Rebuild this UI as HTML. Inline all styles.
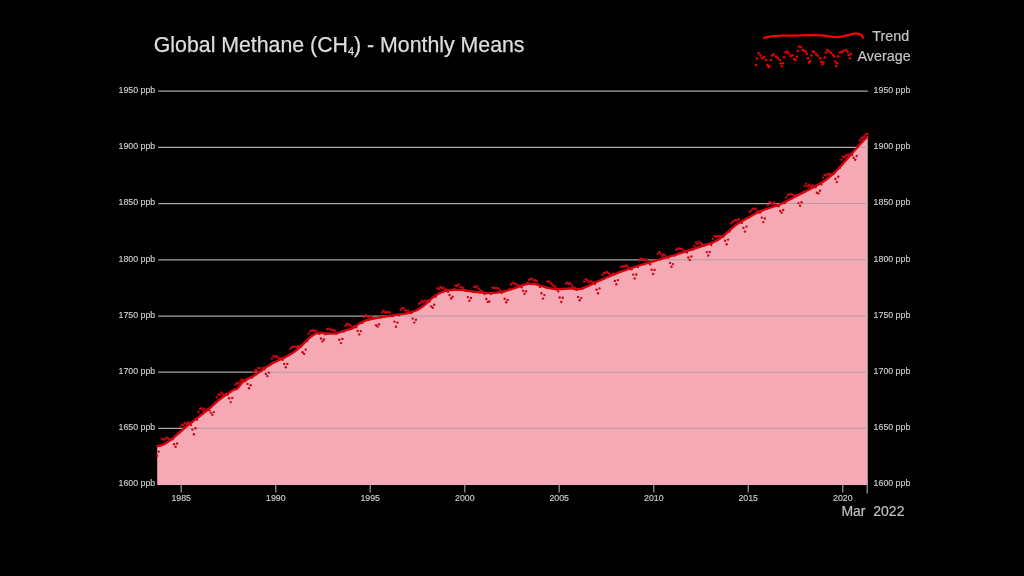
<!DOCTYPE html>
<html lang="en"><head><meta charset="utf-8"><title>Global Methane (CH4) - Monthly Means</title>
<style>
html,body{margin:0;padding:0;background:#000;}
body{width:1024px;height:576px;overflow:hidden;}
svg{display:block;font-family:"Liberation Sans",Arial,Helvetica,sans-serif;}
.t{font-size:21.3px;fill:#dedede;stroke:#dedede;stroke-width:.25;}
.s{font-size:8.8px;fill:#cdcdcd;stroke:#cdcdcd;stroke-width:.15;}
.l{font-size:14.3px;fill:#c4c4c4;stroke:#c4c4c4;stroke-width:.2;}
.d{font-size:14px;fill:#c0c0c0;stroke:#c0c0c0;stroke-width:.2;}
</style></head><body>
<svg width="1024" height="576" viewBox="0 0 1024 576">
<defs><clipPath id="fc"><path d="M157.2 484.9 L157.2 446.3 L158.7 445.9 L160.3 445.6 L161.8 445.1 L163.3 444.5 L164.9 443.7 L166.4 442.9 L167.9 441.9 L169.4 440.9 L171 439.7 L172.5 438.5 L174 437.3 L175.6 436 L177.1 434.7 L178.6 433.3 L180.2 432 L181.7 430.6 L183.2 429.3 L184.8 428 L186.3 426.7 L187.8 425.5 L189.3 424.2 L190.9 423 L192.4 421.8 L193.9 420.6 L195.5 419.4 L197 418.2 L198.5 417.1 L200.1 415.9 L201.6 414.7 L203.1 413.5 L204.6 412.3 L206.2 411.1 L207.7 409.8 L209.2 408.5 L210.8 407.3 L212.3 405.9 L213.8 404.6 L215.4 403.2 L216.9 401.9 L218.4 400.5 L220 399.2 L221.5 398 L223 396.8 L224.5 395.7 L226.1 394.8 L227.6 393.9 L229.1 392.9 L230.7 391.8 L232.2 390.5 L233.7 389.7 L235.3 389.4 L236.8 388.9 L238.3 387.6 L239.9 385.6 L241.4 383.4 L242.9 381.7 L244.4 380.5 L246 379.6 L247.5 378.9 L249 378.2 L250.6 377.6 L252.1 376.8 L253.6 375.9 L255.2 375 L256.7 374 L258.2 372.9 L259.8 371.8 L261.3 370.7 L262.8 369.6 L264.3 368.5 L265.9 367.4 L267.4 366.3 L268.9 365.4 L270.5 364.4 L272 363.6 L273.5 362.8 L275.1 362 L276.6 361.3 L278.1 360.5 L279.6 359.8 L281.2 359.1 L282.7 358.4 L284.2 357.7 L285.8 356.9 L287.3 356.1 L288.8 355.2 L290.4 354.3 L291.9 353.4 L293.4 352.4 L295 351.3 L296.5 350.1 L298 348.9 L299.5 347.5 L301.1 346.1 L302.6 344.6 L304.1 343.1 L305.7 341.6 L307.2 340 L308.7 338.6 L310.3 337.3 L311.8 336 L313.3 335 L314.9 334.1 L316.4 333.4 L317.9 333 L319.4 332.9 L321 332.9 L322.5 333 L324 333.2 L325.6 333.4 L327.1 333.6 L328.6 333.7 L330.2 333.7 L331.7 333.7 L333.2 333.6 L334.8 333.4 L336.3 333.2 L337.8 332.9 L339.3 332.5 L340.9 332 L342.4 331.4 L343.9 330.8 L345.5 330.3 L347 329.8 L348.5 329.5 L350.1 329.2 L351.6 328.8 L353.1 328.1 L354.6 327 L356.2 325.8 L357.7 324.7 L359.2 323.6 L360.8 322.8 L362.3 322 L363.8 321.3 L365.4 320.7 L366.9 320.2 L368.4 319.8 L370 319.4 L371.5 319.1 L373 318.7 L374.5 318.4 L376.1 318.1 L377.6 317.8 L379.1 317.6 L380.7 317.3 L382.2 317 L383.7 316.8 L385.3 316.5 L386.8 316.3 L388.3 316 L389.9 315.8 L391.4 315.6 L392.9 315.4 L394.4 315.1 L396 314.9 L397.5 314.7 L399 314.5 L400.6 314.3 L402.1 314.1 L403.6 313.8 L405.2 313.6 L406.7 313.3 L408.2 313 L409.7 312.6 L411.3 312.2 L412.8 311.7 L414.3 311.2 L415.9 310.6 L417.4 309.8 L418.9 309 L420.5 308.1 L422 307 L423.5 305.8 L425.1 304.6 L426.6 303.2 L428.1 301.8 L429.6 300.4 L431.2 299 L432.7 297.7 L434.2 296.5 L435.8 295.4 L437.3 294.4 L438.8 293.5 L440.4 292.8 L441.9 292.2 L443.4 291.6 L445 291.1 L446.5 290.7 L448 290.4 L449.5 290.2 L451.1 290 L452.6 289.8 L454.1 289.8 L455.7 289.7 L457.2 289.8 L458.7 289.8 L460.3 289.9 L461.8 290.1 L463.3 290.2 L464.9 290.4 L466.4 290.6 L467.9 290.8 L469.4 291.1 L471 291.3 L472.5 291.5 L474 291.8 L475.6 292 L477.1 292.2 L478.6 292.4 L480.2 292.6 L481.7 292.7 L483.2 292.9 L484.7 293 L486.3 293.1 L487.8 293.1 L489.3 293.1 L490.9 293.1 L492.4 293 L493.9 292.9 L495.5 292.8 L497 292.6 L498.5 292.4 L500.1 292.2 L501.6 291.9 L503.1 291.6 L504.6 291.3 L506.2 290.9 L507.7 290.5 L509.2 290 L510.8 289.5 L512.3 289 L513.8 288.5 L515.4 287.9 L516.9 287.3 L518.4 286.8 L520 286.2 L521.5 285.7 L523 285.2 L524.5 284.7 L526.1 284.4 L527.6 284.1 L529.1 283.9 L530.7 283.8 L532.2 283.8 L533.7 283.9 L535.3 284.2 L536.8 284.6 L538.3 285 L539.9 285.5 L541.4 286 L542.9 286.5 L544.4 287 L546 287.4 L547.5 287.8 L549 288.2 L550.6 288.4 L552.1 288.7 L553.6 288.9 L555.2 289 L556.7 289.1 L558.2 289.2 L559.7 289.2 L561.3 289.1 L562.8 289 L564.3 288.9 L565.9 288.8 L567.4 288.6 L568.9 288.5 L570.5 288.5 L572 288.6 L573.5 288.8 L575.1 289 L576.6 289.2 L578.1 289.2 L579.6 289 L581.2 288.7 L582.7 288.2 L584.2 287.7 L585.8 287 L587.3 286.4 L588.8 285.7 L590.4 284.9 L591.9 284.2 L593.4 283.5 L595 282.8 L596.5 282.1 L598 281.3 L599.5 280.6 L601.1 280 L602.6 279.3 L604.1 278.6 L605.7 277.9 L607.2 277.3 L608.7 276.6 L610.3 276 L611.8 275.3 L613.3 274.7 L614.9 274.1 L616.4 273.5 L617.9 272.9 L619.4 272.3 L621 271.7 L622.5 271.2 L624 270.6 L625.6 270.1 L627.1 269.5 L628.6 269 L630.2 268.5 L631.7 268 L633.2 267.5 L634.7 267 L636.3 266.5 L637.8 266 L639.3 265.5 L640.9 265 L642.4 264.6 L643.9 264.1 L645.5 263.6 L647 263.2 L648.5 262.7 L650.1 262.3 L651.6 261.8 L653.1 261.4 L654.6 260.9 L656.2 260.5 L657.7 260 L659.2 259.6 L660.8 259.1 L662.3 258.7 L663.8 258.2 L665.4 257.8 L666.9 257.3 L668.4 256.9 L670 256.4 L671.5 256 L673 255.5 L674.5 255.1 L676.1 254.6 L677.6 254.1 L679.1 253.6 L680.7 253.2 L682.2 252.7 L683.7 252.2 L685.3 251.7 L686.8 251.2 L688.3 250.7 L689.8 250.2 L691.4 249.7 L692.9 249.2 L694.4 248.7 L696 248.2 L697.5 247.7 L699 247.2 L700.6 246.7 L702.1 246.2 L703.6 245.7 L705.2 245.2 L706.7 244.7 L708.2 244.2 L709.7 243.7 L711.3 243.1 L712.8 242.5 L714.3 241.8 L715.9 241 L717.4 240.2 L718.9 239.3 L720.5 238.2 L722 237 L723.5 235.8 L725.1 234.5 L726.6 233.1 L728.1 231.7 L729.6 230.3 L731.2 229 L732.7 227.6 L734.2 226.4 L735.8 225.2 L737.3 224.1 L738.8 223.1 L740.4 222.1 L741.9 221.2 L743.4 220.3 L745 219.5 L746.5 218.6 L748 217.8 L749.5 217 L751.1 216.1 L752.6 215.2 L754.1 214.3 L755.7 213.5 L757.2 212.7 L758.7 211.9 L760.3 211.2 L761.8 210.6 L763.3 210 L764.8 209.5 L766.4 209 L767.9 208.5 L769.4 208 L771 207.5 L772.5 207 L774 206.5 L775.6 206 L777.1 205.5 L778.6 204.9 L780.2 204.3 L781.7 203.6 L783.2 202.9 L784.7 202.2 L786.3 201.4 L787.8 200.6 L789.3 199.8 L790.9 199 L792.4 198.2 L793.9 197.3 L795.5 196.5 L797 195.7 L798.5 194.9 L800.1 194.1 L801.6 193.4 L803.1 192.6 L804.6 191.9 L806.2 191.1 L807.7 190.3 L809.2 189.6 L810.8 188.8 L812.3 188 L813.8 187.2 L815.4 186.4 L816.9 185.5 L818.4 184.7 L820 183.8 L821.5 182.8 L823 181.8 L824.5 180.8 L826.1 179.7 L827.6 178.5 L829.1 177.3 L830.7 176 L832.2 174.7 L833.7 173.3 L835.3 171.8 L836.8 170.3 L838.3 168.7 L839.8 167.1 L841.4 165.5 L842.9 163.8 L844.4 162.1 L846 160.3 L847.5 158.6 L849 156.8 L850.6 155.1 L852.1 153.3 L853.6 151.5 L855.2 149.8 L856.7 148.1 L858.2 146.3 L859.7 144.7 L861.3 143 L862.8 141.4 L864.3 139.8 L865.9 138.3 L867.4 136.8 L867.4 484.9 Z"/></clipPath></defs>
<rect width="1024" height="576" fill="#000"/>
<text class="t" x="153.8" y="51.9">Global Methane (CH<tspan font-size="11" dy="3">4</tspan><tspan dy="-3">) - Monthly Means</tspan></text>
<g fill="none" stroke="#ff0000" stroke-width="2.25" stroke-linecap="round" stroke-linejoin="round"><path d="M764.2 38 L766.2 37.4 L768.3 36.9 L770.5 36.5 L772.8 36.2 L775.3 36 L777.8 35.8 L780.4 35.7 L783.1 35.6 L785.9 35.6 L788.8 35.6 L791.7 35.6 L794.7 35.5 L797.7 35.5 L800.7 35.4 L803.7 35.3 L806.7 35.2 L809.6 35.2 L812.4 35.1 L815.1 35.1 L817.6 35.1 L819.9 35.3 L822 35.4 L823.9 35.6 L825.7 35.8 L827.4 36.1 L828.9 36.3 L830.4 36.5 L831.7 36.7 L833 36.9 L834.3 37 L835.6 37.1 L836.9 37.1 L838.3 37 L839.8 36.8 L841.4 36.6 L842.9 36.3 L844.5 36 L846 35.6 L847.5 35.2 L848.9 34.9 L850.2 34.6 L851.4 34.2 L852.6 34 L853.6 33.8 L854.7 33.6 L855.6 33.5 L856.5 33.5 L857.4 33.5 L858.2 33.6 L858.9 33.8 L859.6 34.1 L860.2 34.4 L860.8 34.7 L861.3 35.1 L861.7 35.5 L862.1 36 L862.4 36.5 L862.6 37.1 L862.8 37.6"/></g>
<g fill="#f00000"><circle cx="756.1" cy="65.1" r="1.25"/><circle cx="757" cy="58.6" r="1.25"/><circle cx="758.6" cy="53.2" r="1.25"/><circle cx="760.5" cy="55.5" r="1.25"/><circle cx="762" cy="58.2" r="1.25"/><circle cx="764.2" cy="57" r="1.25"/><circle cx="766.1" cy="59.9" r="1.25"/><circle cx="767.4" cy="64.9" r="1.25"/><circle cx="768.6" cy="67.2" r="1.25"/><circle cx="769.5" cy="66" r="1.25"/><circle cx="770.8" cy="60.1" r="1.25"/><circle cx="772" cy="55.5" r="1.25"/><circle cx="773.6" cy="54.5" r="1.25"/><circle cx="775.8" cy="56.4" r="1.25"/><circle cx="778" cy="58" r="1.25"/><circle cx="779.9" cy="60.1" r="1.25"/><circle cx="780.8" cy="63.2" r="1.25"/><circle cx="781.8" cy="66" r="1.25"/><circle cx="782.8" cy="63.2" r="1.25"/><circle cx="784.2" cy="57.2" r="1.25"/><circle cx="785.5" cy="52.6" r="1.25"/><circle cx="787.4" cy="51.4" r="1.25"/><circle cx="788.6" cy="53.5" r="1.25"/><circle cx="790.5" cy="55.8" r="1.25"/><circle cx="792.4" cy="55.5" r="1.25"/><circle cx="794.2" cy="58.9" r="1.25"/><circle cx="795.5" cy="60.1" r="1.25"/><circle cx="796.8" cy="56.8" r="1.25"/><circle cx="797.8" cy="51" r="1.25"/><circle cx="799.2" cy="46.4" r="1.25"/><circle cx="800.8" cy="47" r="1.25"/><circle cx="802.4" cy="49.8" r="1.25"/><circle cx="804.2" cy="51" r="1.25"/><circle cx="805.8" cy="51.4" r="1.25"/><circle cx="806.8" cy="53.9" r="1.25"/><circle cx="808" cy="58.2" r="1.25"/><circle cx="809" cy="62.6" r="1.25"/><circle cx="810.1" cy="61" r="1.25"/><circle cx="811.4" cy="55.5" r="1.25"/><circle cx="812.8" cy="51.4" r="1.25"/><circle cx="814.2" cy="52" r="1.25"/><circle cx="816.1" cy="54.2" r="1.25"/><circle cx="817.8" cy="55.8" r="1.25"/><circle cx="819.9" cy="58.2" r="1.25"/><circle cx="821.1" cy="61.8" r="1.25"/><circle cx="822.4" cy="64.2" r="1.25"/><circle cx="823.4" cy="62.6" r="1.25"/><circle cx="824.9" cy="57.6" r="1.25"/><circle cx="826.1" cy="52.6" r="1.25"/><circle cx="827.4" cy="50.1" r="1.25"/><circle cx="829.2" cy="51.4" r="1.25"/><circle cx="831.1" cy="53" r="1.25"/><circle cx="833" cy="55.1" r="1.25"/><circle cx="834.2" cy="56.4" r="1.25"/><circle cx="835.1" cy="61.4" r="1.25"/><circle cx="836.1" cy="66" r="1.25"/><circle cx="837.1" cy="63.2" r="1.25"/><circle cx="838.2" cy="56.4" r="1.25"/><circle cx="839.9" cy="52.6" r="1.25"/><circle cx="841.8" cy="52" r="1.25"/><circle cx="843.6" cy="50.8" r="1.25"/><circle cx="846.1" cy="50.1" r="1.25"/><circle cx="847.6" cy="52" r="1.25"/><circle cx="848.6" cy="55.1" r="1.25"/><circle cx="849.9" cy="58.2" r="1.25"/><circle cx="850.8" cy="53.9" r="1.25"/></g>
<text class="l" x="872.3" y="41.3">Trend</text>
<text class="l" x="857.6" y="61.3">Average</text>
<g stroke="#a8a8a8" stroke-width="1.25"><line x1="158.2" x2="867.8" y1="91.1" y2="91.1"/><line x1="158.2" x2="867.8" y1="147.3" y2="147.3"/><line x1="158.2" x2="867.8" y1="203.5" y2="203.5"/><line x1="158.2" x2="867.8" y1="259.8" y2="259.8"/><line x1="158.2" x2="867.8" y1="316" y2="316"/><line x1="158.2" x2="867.8" y1="372.2" y2="372.2"/><line x1="158.2" x2="867.8" y1="428.4" y2="428.4"/></g>
<path d="M157.2 484.9 L157.2 446.3 L158.7 445.9 L160.3 445.6 L161.8 445.1 L163.3 444.5 L164.9 443.7 L166.4 442.9 L167.9 441.9 L169.4 440.9 L171 439.7 L172.5 438.5 L174 437.3 L175.6 436 L177.1 434.7 L178.6 433.3 L180.2 432 L181.7 430.6 L183.2 429.3 L184.8 428 L186.3 426.7 L187.8 425.5 L189.3 424.2 L190.9 423 L192.4 421.8 L193.9 420.6 L195.5 419.4 L197 418.2 L198.5 417.1 L200.1 415.9 L201.6 414.7 L203.1 413.5 L204.6 412.3 L206.2 411.1 L207.7 409.8 L209.2 408.5 L210.8 407.3 L212.3 405.9 L213.8 404.6 L215.4 403.2 L216.9 401.9 L218.4 400.5 L220 399.2 L221.5 398 L223 396.8 L224.5 395.7 L226.1 394.8 L227.6 393.9 L229.1 392.9 L230.7 391.8 L232.2 390.5 L233.7 389.7 L235.3 389.4 L236.8 388.9 L238.3 387.6 L239.9 385.6 L241.4 383.4 L242.9 381.7 L244.4 380.5 L246 379.6 L247.5 378.9 L249 378.2 L250.6 377.6 L252.1 376.8 L253.6 375.9 L255.2 375 L256.7 374 L258.2 372.9 L259.8 371.8 L261.3 370.7 L262.8 369.6 L264.3 368.5 L265.9 367.4 L267.4 366.3 L268.9 365.4 L270.5 364.4 L272 363.6 L273.5 362.8 L275.1 362 L276.6 361.3 L278.1 360.5 L279.6 359.8 L281.2 359.1 L282.7 358.4 L284.2 357.7 L285.8 356.9 L287.3 356.1 L288.8 355.2 L290.4 354.3 L291.9 353.4 L293.4 352.4 L295 351.3 L296.5 350.1 L298 348.9 L299.5 347.5 L301.1 346.1 L302.6 344.6 L304.1 343.1 L305.7 341.6 L307.2 340 L308.7 338.6 L310.3 337.3 L311.8 336 L313.3 335 L314.9 334.1 L316.4 333.4 L317.9 333 L319.4 332.9 L321 332.9 L322.5 333 L324 333.2 L325.6 333.4 L327.1 333.6 L328.6 333.7 L330.2 333.7 L331.7 333.7 L333.2 333.6 L334.8 333.4 L336.3 333.2 L337.8 332.9 L339.3 332.5 L340.9 332 L342.4 331.4 L343.9 330.8 L345.5 330.3 L347 329.8 L348.5 329.5 L350.1 329.2 L351.6 328.8 L353.1 328.1 L354.6 327 L356.2 325.8 L357.7 324.7 L359.2 323.6 L360.8 322.8 L362.3 322 L363.8 321.3 L365.4 320.7 L366.9 320.2 L368.4 319.8 L370 319.4 L371.5 319.1 L373 318.7 L374.5 318.4 L376.1 318.1 L377.6 317.8 L379.1 317.6 L380.7 317.3 L382.2 317 L383.7 316.8 L385.3 316.5 L386.8 316.3 L388.3 316 L389.9 315.8 L391.4 315.6 L392.9 315.4 L394.4 315.1 L396 314.9 L397.5 314.7 L399 314.5 L400.6 314.3 L402.1 314.1 L403.6 313.8 L405.2 313.6 L406.7 313.3 L408.2 313 L409.7 312.6 L411.3 312.2 L412.8 311.7 L414.3 311.2 L415.9 310.6 L417.4 309.8 L418.9 309 L420.5 308.1 L422 307 L423.5 305.8 L425.1 304.6 L426.6 303.2 L428.1 301.8 L429.6 300.4 L431.2 299 L432.7 297.7 L434.2 296.5 L435.8 295.4 L437.3 294.4 L438.8 293.5 L440.4 292.8 L441.9 292.2 L443.4 291.6 L445 291.1 L446.5 290.7 L448 290.4 L449.5 290.2 L451.1 290 L452.6 289.8 L454.1 289.8 L455.7 289.7 L457.2 289.8 L458.7 289.8 L460.3 289.9 L461.8 290.1 L463.3 290.2 L464.9 290.4 L466.4 290.6 L467.9 290.8 L469.4 291.1 L471 291.3 L472.5 291.5 L474 291.8 L475.6 292 L477.1 292.2 L478.6 292.4 L480.2 292.6 L481.7 292.7 L483.2 292.9 L484.7 293 L486.3 293.1 L487.8 293.1 L489.3 293.1 L490.9 293.1 L492.4 293 L493.9 292.9 L495.5 292.8 L497 292.6 L498.5 292.4 L500.1 292.2 L501.6 291.9 L503.1 291.6 L504.6 291.3 L506.2 290.9 L507.7 290.5 L509.2 290 L510.8 289.5 L512.3 289 L513.8 288.5 L515.4 287.9 L516.9 287.3 L518.4 286.8 L520 286.2 L521.5 285.7 L523 285.2 L524.5 284.7 L526.1 284.4 L527.6 284.1 L529.1 283.9 L530.7 283.8 L532.2 283.8 L533.7 283.9 L535.3 284.2 L536.8 284.6 L538.3 285 L539.9 285.5 L541.4 286 L542.9 286.5 L544.4 287 L546 287.4 L547.5 287.8 L549 288.2 L550.6 288.4 L552.1 288.7 L553.6 288.9 L555.2 289 L556.7 289.1 L558.2 289.2 L559.7 289.2 L561.3 289.1 L562.8 289 L564.3 288.9 L565.9 288.8 L567.4 288.6 L568.9 288.5 L570.5 288.5 L572 288.6 L573.5 288.8 L575.1 289 L576.6 289.2 L578.1 289.2 L579.6 289 L581.2 288.7 L582.7 288.2 L584.2 287.7 L585.8 287 L587.3 286.4 L588.8 285.7 L590.4 284.9 L591.9 284.2 L593.4 283.5 L595 282.8 L596.5 282.1 L598 281.3 L599.5 280.6 L601.1 280 L602.6 279.3 L604.1 278.6 L605.7 277.9 L607.2 277.3 L608.7 276.6 L610.3 276 L611.8 275.3 L613.3 274.7 L614.9 274.1 L616.4 273.5 L617.9 272.9 L619.4 272.3 L621 271.7 L622.5 271.2 L624 270.6 L625.6 270.1 L627.1 269.5 L628.6 269 L630.2 268.5 L631.7 268 L633.2 267.5 L634.7 267 L636.3 266.5 L637.8 266 L639.3 265.5 L640.9 265 L642.4 264.6 L643.9 264.1 L645.5 263.6 L647 263.2 L648.5 262.7 L650.1 262.3 L651.6 261.8 L653.1 261.4 L654.6 260.9 L656.2 260.5 L657.7 260 L659.2 259.6 L660.8 259.1 L662.3 258.7 L663.8 258.2 L665.4 257.8 L666.9 257.3 L668.4 256.9 L670 256.4 L671.5 256 L673 255.5 L674.5 255.1 L676.1 254.6 L677.6 254.1 L679.1 253.6 L680.7 253.2 L682.2 252.7 L683.7 252.2 L685.3 251.7 L686.8 251.2 L688.3 250.7 L689.8 250.2 L691.4 249.7 L692.9 249.2 L694.4 248.7 L696 248.2 L697.5 247.7 L699 247.2 L700.6 246.7 L702.1 246.2 L703.6 245.7 L705.2 245.2 L706.7 244.7 L708.2 244.2 L709.7 243.7 L711.3 243.1 L712.8 242.5 L714.3 241.8 L715.9 241 L717.4 240.2 L718.9 239.3 L720.5 238.2 L722 237 L723.5 235.8 L725.1 234.5 L726.6 233.1 L728.1 231.7 L729.6 230.3 L731.2 229 L732.7 227.6 L734.2 226.4 L735.8 225.2 L737.3 224.1 L738.8 223.1 L740.4 222.1 L741.9 221.2 L743.4 220.3 L745 219.5 L746.5 218.6 L748 217.8 L749.5 217 L751.1 216.1 L752.6 215.2 L754.1 214.3 L755.7 213.5 L757.2 212.7 L758.7 211.9 L760.3 211.2 L761.8 210.6 L763.3 210 L764.8 209.5 L766.4 209 L767.9 208.5 L769.4 208 L771 207.5 L772.5 207 L774 206.5 L775.6 206 L777.1 205.5 L778.6 204.9 L780.2 204.3 L781.7 203.6 L783.2 202.9 L784.7 202.2 L786.3 201.4 L787.8 200.6 L789.3 199.8 L790.9 199 L792.4 198.2 L793.9 197.3 L795.5 196.5 L797 195.7 L798.5 194.9 L800.1 194.1 L801.6 193.4 L803.1 192.6 L804.6 191.9 L806.2 191.1 L807.7 190.3 L809.2 189.6 L810.8 188.8 L812.3 188 L813.8 187.2 L815.4 186.4 L816.9 185.5 L818.4 184.7 L820 183.8 L821.5 182.8 L823 181.8 L824.5 180.8 L826.1 179.7 L827.6 178.5 L829.1 177.3 L830.7 176 L832.2 174.7 L833.7 173.3 L835.3 171.8 L836.8 170.3 L838.3 168.7 L839.8 167.1 L841.4 165.5 L842.9 163.8 L844.4 162.1 L846 160.3 L847.5 158.6 L849 156.8 L850.6 155.1 L852.1 153.3 L853.6 151.5 L855.2 149.8 L856.7 148.1 L858.2 146.3 L859.7 144.7 L861.3 143 L862.8 141.4 L864.3 139.8 L865.9 138.3 L867.4 136.8 L867.4 484.9 Z" fill="#f5a9b4"/>
<g stroke="#ab9a9d" stroke-width="0.9" clip-path="url(#fc)"><line x1="158.2" x2="867.8" y1="91.1" y2="91.1"/><line x1="158.2" x2="867.8" y1="147.3" y2="147.3"/><line x1="158.2" x2="867.8" y1="203.5" y2="203.5"/><line x1="158.2" x2="867.8" y1="259.8" y2="259.8"/><line x1="158.2" x2="867.8" y1="316" y2="316"/><line x1="158.2" x2="867.8" y1="372.2" y2="372.2"/><line x1="158.2" x2="867.8" y1="428.4" y2="428.4"/></g>
<line x1="867.1" x2="867.1" y1="138" y2="484.5" stroke="#d2bcc0" stroke-width="1"/>
<g stroke="#a0a0a0" stroke-width="1.2"><line x1="181.2" x2="181.2" y1="484.5" y2="492.6"/><line x1="275.8" x2="275.8" y1="484.5" y2="492.6"/><line x1="370.2" x2="370.2" y1="484.5" y2="492.6"/><line x1="464.8" x2="464.8" y1="484.5" y2="492.6"/><line x1="559.2" x2="559.2" y1="484.5" y2="492.6"/><line x1="653.8" x2="653.8" y1="484.5" y2="492.6"/><line x1="748.2" x2="748.2" y1="484.5" y2="492.6"/><line x1="842.8" x2="842.8" y1="484.5" y2="492.6"/><line x1="867.2" x2="867.2" y1="484" y2="493.5"/></g>
<path d="M157.2 446.3 L158.7 445.9 L160.3 445.6 L161.8 445.1 L163.3 444.5 L164.9 443.7 L166.4 442.9 L167.9 441.9 L169.4 440.9 L171 439.7 L172.5 438.5 L174 437.3 L175.6 436 L177.1 434.7 L178.6 433.3 L180.2 432 L181.7 430.6 L183.2 429.3 L184.8 428 L186.3 426.7 L187.8 425.5 L189.3 424.2 L190.9 423 L192.4 421.8 L193.9 420.6 L195.5 419.4 L197 418.2 L198.5 417.1 L200.1 415.9 L201.6 414.7 L203.1 413.5 L204.6 412.3 L206.2 411.1 L207.7 409.8 L209.2 408.5 L210.8 407.3 L212.3 405.9 L213.8 404.6 L215.4 403.2 L216.9 401.9 L218.4 400.5 L220 399.2 L221.5 398 L223 396.8 L224.5 395.7 L226.1 394.8 L227.6 393.9 L229.1 392.9 L230.7 391.8 L232.2 390.5 L233.7 389.7 L235.3 389.4 L236.8 388.9 L238.3 387.6 L239.9 385.6 L241.4 383.4 L242.9 381.7 L244.4 380.5 L246 379.6 L247.5 378.9 L249 378.2 L250.6 377.6 L252.1 376.8 L253.6 375.9 L255.2 375 L256.7 374 L258.2 372.9 L259.8 371.8 L261.3 370.7 L262.8 369.6 L264.3 368.5 L265.9 367.4 L267.4 366.3 L268.9 365.4 L270.5 364.4 L272 363.6 L273.5 362.8 L275.1 362 L276.6 361.3 L278.1 360.5 L279.6 359.8 L281.2 359.1 L282.7 358.4 L284.2 357.7 L285.8 356.9 L287.3 356.1 L288.8 355.2 L290.4 354.3 L291.9 353.4 L293.4 352.4 L295 351.3 L296.5 350.1 L298 348.9 L299.5 347.5 L301.1 346.1 L302.6 344.6 L304.1 343.1 L305.7 341.6 L307.2 340 L308.7 338.6 L310.3 337.3 L311.8 336 L313.3 335 L314.9 334.1 L316.4 333.4 L317.9 333 L319.4 332.9 L321 332.9 L322.5 333 L324 333.2 L325.6 333.4 L327.1 333.6 L328.6 333.7 L330.2 333.7 L331.7 333.7 L333.2 333.6 L334.8 333.4 L336.3 333.2 L337.8 332.9 L339.3 332.5 L340.9 332 L342.4 331.4 L343.9 330.8 L345.5 330.3 L347 329.8 L348.5 329.5 L350.1 329.2 L351.6 328.8 L353.1 328.1 L354.6 327 L356.2 325.8 L357.7 324.7 L359.2 323.6 L360.8 322.8 L362.3 322 L363.8 321.3 L365.4 320.7 L366.9 320.2 L368.4 319.8 L370 319.4 L371.5 319.1 L373 318.7 L374.5 318.4 L376.1 318.1 L377.6 317.8 L379.1 317.6 L380.7 317.3 L382.2 317 L383.7 316.8 L385.3 316.5 L386.8 316.3 L388.3 316 L389.9 315.8 L391.4 315.6 L392.9 315.4 L394.4 315.1 L396 314.9 L397.5 314.7 L399 314.5 L400.6 314.3 L402.1 314.1 L403.6 313.8 L405.2 313.6 L406.7 313.3 L408.2 313 L409.7 312.6 L411.3 312.2 L412.8 311.7 L414.3 311.2 L415.9 310.6 L417.4 309.8 L418.9 309 L420.5 308.1 L422 307 L423.5 305.8 L425.1 304.6 L426.6 303.2 L428.1 301.8 L429.6 300.4 L431.2 299 L432.7 297.7 L434.2 296.5 L435.8 295.4 L437.3 294.4 L438.8 293.5 L440.4 292.8 L441.9 292.2 L443.4 291.6 L445 291.1 L446.5 290.7 L448 290.4 L449.5 290.2 L451.1 290 L452.6 289.8 L454.1 289.8 L455.7 289.7 L457.2 289.8 L458.7 289.8 L460.3 289.9 L461.8 290.1 L463.3 290.2 L464.9 290.4 L466.4 290.6 L467.9 290.8 L469.4 291.1 L471 291.3 L472.5 291.5 L474 291.8 L475.6 292 L477.1 292.2 L478.6 292.4 L480.2 292.6 L481.7 292.7 L483.2 292.9 L484.7 293 L486.3 293.1 L487.8 293.1 L489.3 293.1 L490.9 293.1 L492.4 293 L493.9 292.9 L495.5 292.8 L497 292.6 L498.5 292.4 L500.1 292.2 L501.6 291.9 L503.1 291.6 L504.6 291.3 L506.2 290.9 L507.7 290.5 L509.2 290 L510.8 289.5 L512.3 289 L513.8 288.5 L515.4 287.9 L516.9 287.3 L518.4 286.8 L520 286.2 L521.5 285.7 L523 285.2 L524.5 284.7 L526.1 284.4 L527.6 284.1 L529.1 283.9 L530.7 283.8 L532.2 283.8 L533.7 283.9 L535.3 284.2 L536.8 284.6 L538.3 285 L539.9 285.5 L541.4 286 L542.9 286.5 L544.4 287 L546 287.4 L547.5 287.8 L549 288.2 L550.6 288.4 L552.1 288.7 L553.6 288.9 L555.2 289 L556.7 289.1 L558.2 289.2 L559.7 289.2 L561.3 289.1 L562.8 289 L564.3 288.9 L565.9 288.8 L567.4 288.6 L568.9 288.5 L570.5 288.5 L572 288.6 L573.5 288.8 L575.1 289 L576.6 289.2 L578.1 289.2 L579.6 289 L581.2 288.7 L582.7 288.2 L584.2 287.7 L585.8 287 L587.3 286.4 L588.8 285.7 L590.4 284.9 L591.9 284.2 L593.4 283.5 L595 282.8 L596.5 282.1 L598 281.3 L599.5 280.6 L601.1 280 L602.6 279.3 L604.1 278.6 L605.7 277.9 L607.2 277.3 L608.7 276.6 L610.3 276 L611.8 275.3 L613.3 274.7 L614.9 274.1 L616.4 273.5 L617.9 272.9 L619.4 272.3 L621 271.7 L622.5 271.2 L624 270.6 L625.6 270.1 L627.1 269.5 L628.6 269 L630.2 268.5 L631.7 268 L633.2 267.5 L634.7 267 L636.3 266.5 L637.8 266 L639.3 265.5 L640.9 265 L642.4 264.6 L643.9 264.1 L645.5 263.6 L647 263.2 L648.5 262.7 L650.1 262.3 L651.6 261.8 L653.1 261.4 L654.6 260.9 L656.2 260.5 L657.7 260 L659.2 259.6 L660.8 259.1 L662.3 258.7 L663.8 258.2 L665.4 257.8 L666.9 257.3 L668.4 256.9 L670 256.4 L671.5 256 L673 255.5 L674.5 255.1 L676.1 254.6 L677.6 254.1 L679.1 253.6 L680.7 253.2 L682.2 252.7 L683.7 252.2 L685.3 251.7 L686.8 251.2 L688.3 250.7 L689.8 250.2 L691.4 249.7 L692.9 249.2 L694.4 248.7 L696 248.2 L697.5 247.7 L699 247.2 L700.6 246.7 L702.1 246.2 L703.6 245.7 L705.2 245.2 L706.7 244.7 L708.2 244.2 L709.7 243.7 L711.3 243.1 L712.8 242.5 L714.3 241.8 L715.9 241 L717.4 240.2 L718.9 239.3 L720.5 238.2 L722 237 L723.5 235.8 L725.1 234.5 L726.6 233.1 L728.1 231.7 L729.6 230.3 L731.2 229 L732.7 227.6 L734.2 226.4 L735.8 225.2 L737.3 224.1 L738.8 223.1 L740.4 222.1 L741.9 221.2 L743.4 220.3 L745 219.5 L746.5 218.6 L748 217.8 L749.5 217 L751.1 216.1 L752.6 215.2 L754.1 214.3 L755.7 213.5 L757.2 212.7 L758.7 211.9 L760.3 211.2 L761.8 210.6 L763.3 210 L764.8 209.5 L766.4 209 L767.9 208.5 L769.4 208 L771 207.5 L772.5 207 L774 206.5 L775.6 206 L777.1 205.5 L778.6 204.9 L780.2 204.3 L781.7 203.6 L783.2 202.9 L784.7 202.2 L786.3 201.4 L787.8 200.6 L789.3 199.8 L790.9 199 L792.4 198.2 L793.9 197.3 L795.5 196.5 L797 195.7 L798.5 194.9 L800.1 194.1 L801.6 193.4 L803.1 192.6 L804.6 191.9 L806.2 191.1 L807.7 190.3 L809.2 189.6 L810.8 188.8 L812.3 188 L813.8 187.2 L815.4 186.4 L816.9 185.5 L818.4 184.7 L820 183.8 L821.5 182.8 L823 181.8 L824.5 180.8 L826.1 179.7 L827.6 178.5 L829.1 177.3 L830.7 176 L832.2 174.7 L833.7 173.3 L835.3 171.8 L836.8 170.3 L838.3 168.7 L839.8 167.1 L841.4 165.5 L842.9 163.8 L844.4 162.1 L846 160.3 L847.5 158.6 L849 156.8 L850.6 155.1 L852.1 153.3 L853.6 151.5 L855.2 149.8 L856.7 148.1 L858.2 146.3 L859.7 144.7 L861.3 143 L862.8 141.4 L864.3 139.8 L865.9 138.3 L867.4 136.8" fill="none" stroke="#dc000a" stroke-width="2.3" stroke-linejoin="round" stroke-linecap="round"/>
<g fill="#cc0616"><circle cx="157.2" cy="455.8" r="1.2"/><circle cx="158.7" cy="451.6" r="1.2"/><circle cx="160.3" cy="445.5" r="1.2"/><circle cx="161.8" cy="438.6" r="1.2"/><circle cx="163.3" cy="439.5" r="1.2"/><circle cx="164.9" cy="439.3" r="1.2"/><circle cx="166.4" cy="437.8" r="1.2"/><circle cx="167.9" cy="438.1" r="1.2"/><circle cx="169.4" cy="439.4" r="1.2"/><circle cx="171" cy="439.4" r="1.2"/><circle cx="172.5" cy="439.2" r="1.2"/><circle cx="174" cy="444.3" r="1.2"/><circle cx="175.6" cy="446.8" r="1.2"/><circle cx="177.1" cy="443.5" r="1.2"/><circle cx="178.6" cy="433" r="1.2"/><circle cx="180.2" cy="427.1" r="1.2"/><circle cx="181.7" cy="424.6" r="1.2"/><circle cx="183.2" cy="425" r="1.2"/><circle cx="184.8" cy="423" r="1.2"/><circle cx="186.3" cy="423.7" r="1.2"/><circle cx="187.8" cy="422.7" r="1.2"/><circle cx="189.3" cy="422.8" r="1.2"/><circle cx="190.9" cy="425.1" r="1.2"/><circle cx="192.4" cy="429.6" r="1.2"/><circle cx="193.9" cy="434.3" r="1.2"/><circle cx="195.5" cy="428.3" r="1.2"/><circle cx="197" cy="419.8" r="1.2"/><circle cx="198.5" cy="411.9" r="1.2"/><circle cx="200.1" cy="409" r="1.2"/><circle cx="201.6" cy="408.3" r="1.2"/><circle cx="203.1" cy="410.5" r="1.2"/><circle cx="204.6" cy="408.7" r="1.2"/><circle cx="206.2" cy="410.7" r="1.2"/><circle cx="207.7" cy="409.8" r="1.2"/><circle cx="209.2" cy="410.3" r="1.2"/><circle cx="210.8" cy="412.6" r="1.2"/><circle cx="212.3" cy="414.8" r="1.2"/><circle cx="213.8" cy="412.1" r="1.2"/><circle cx="215.4" cy="402.6" r="1.2"/><circle cx="216.9" cy="397.4" r="1.2"/><circle cx="218.4" cy="394.6" r="1.2"/><circle cx="220" cy="394.7" r="1.2"/><circle cx="221.5" cy="392.4" r="1.2"/><circle cx="223" cy="394.2" r="1.2"/><circle cx="224.5" cy="395.6" r="1.2"/><circle cx="226.1" cy="393.8" r="1.2"/><circle cx="227.6" cy="394.7" r="1.2"/><circle cx="229.1" cy="398.3" r="1.2"/><circle cx="230.7" cy="402.1" r="1.2"/><circle cx="232.2" cy="398" r="1.2"/><circle cx="233.7" cy="389.9" r="1.2"/><circle cx="235.3" cy="384.6" r="1.2"/><circle cx="236.8" cy="382.7" r="1.2"/><circle cx="238.3" cy="383.6" r="1.2"/><circle cx="239.9" cy="381.6" r="1.2"/><circle cx="241.4" cy="379.5" r="1.2"/><circle cx="242.9" cy="380.2" r="1.2"/><circle cx="244.4" cy="381.4" r="1.2"/><circle cx="246" cy="380.5" r="1.2"/><circle cx="247.5" cy="383.9" r="1.2"/><circle cx="249" cy="388.3" r="1.2"/><circle cx="250.6" cy="385.3" r="1.2"/><circle cx="252.1" cy="377.6" r="1.2"/><circle cx="253.6" cy="372.2" r="1.2"/><circle cx="255.2" cy="369.9" r="1.2"/><circle cx="256.7" cy="369.9" r="1.2"/><circle cx="258.2" cy="368.1" r="1.2"/><circle cx="259.8" cy="368" r="1.2"/><circle cx="261.3" cy="370.7" r="1.2"/><circle cx="262.8" cy="368" r="1.2"/><circle cx="264.3" cy="369.2" r="1.2"/><circle cx="265.9" cy="373.9" r="1.2"/><circle cx="267.4" cy="376.1" r="1.2"/><circle cx="268.9" cy="372.6" r="1.2"/><circle cx="270.5" cy="364.7" r="1.2"/><circle cx="272" cy="358.4" r="1.2"/><circle cx="273.5" cy="356" r="1.2"/><circle cx="275.1" cy="356.8" r="1.2"/><circle cx="276.6" cy="356.3" r="1.2"/><circle cx="278.1" cy="357.6" r="1.2"/><circle cx="279.6" cy="357.9" r="1.2"/><circle cx="281.2" cy="359" r="1.2"/><circle cx="282.7" cy="359.7" r="1.2"/><circle cx="284.2" cy="364" r="1.2"/><circle cx="285.8" cy="367.2" r="1.2"/><circle cx="287.3" cy="363.9" r="1.2"/><circle cx="288.8" cy="354.9" r="1.2"/><circle cx="290.4" cy="348.7" r="1.2"/><circle cx="291.9" cy="347.2" r="1.2"/><circle cx="293.4" cy="346.7" r="1.2"/><circle cx="295" cy="346.9" r="1.2"/><circle cx="296.5" cy="347.2" r="1.2"/><circle cx="298" cy="346.2" r="1.2"/><circle cx="299.5" cy="346.8" r="1.2"/><circle cx="301.1" cy="346.6" r="1.2"/><circle cx="302.6" cy="352.2" r="1.2"/><circle cx="304.1" cy="353.9" r="1.2"/><circle cx="305.7" cy="349.6" r="1.2"/><circle cx="307.2" cy="340.9" r="1.2"/><circle cx="308.7" cy="333.6" r="1.2"/><circle cx="310.3" cy="331.2" r="1.2"/><circle cx="311.8" cy="330.5" r="1.2"/><circle cx="313.3" cy="330.2" r="1.2"/><circle cx="314.9" cy="331.1" r="1.2"/><circle cx="316.4" cy="330.6" r="1.2"/><circle cx="317.9" cy="332.9" r="1.2"/><circle cx="319.4" cy="333.9" r="1.2"/><circle cx="321" cy="338.5" r="1.2"/><circle cx="322.5" cy="341.4" r="1.2"/><circle cx="324" cy="339.5" r="1.2"/><circle cx="325.6" cy="334.3" r="1.2"/><circle cx="327.1" cy="329.3" r="1.2"/><circle cx="328.6" cy="328.7" r="1.2"/><circle cx="330.2" cy="329.4" r="1.2"/><circle cx="331.7" cy="329.8" r="1.2"/><circle cx="333.2" cy="330.1" r="1.2"/><circle cx="334.8" cy="330.7" r="1.2"/><circle cx="336.3" cy="333.9" r="1.2"/><circle cx="337.8" cy="332.8" r="1.2"/><circle cx="339.3" cy="339.8" r="1.2"/><circle cx="340.9" cy="343.1" r="1.2"/><circle cx="342.4" cy="338.9" r="1.2"/><circle cx="343.9" cy="331.5" r="1.2"/><circle cx="345.5" cy="325.8" r="1.2"/><circle cx="347" cy="323.8" r="1.2"/><circle cx="348.5" cy="324.3" r="1.2"/><circle cx="350.1" cy="324.9" r="1.2"/><circle cx="351.6" cy="326.4" r="1.2"/><circle cx="353.1" cy="327.6" r="1.2"/><circle cx="354.6" cy="326.3" r="1.2"/><circle cx="356.2" cy="327.2" r="1.2"/><circle cx="357.7" cy="330.9" r="1.2"/><circle cx="359.2" cy="334.4" r="1.2"/><circle cx="360.8" cy="331.1" r="1.2"/><circle cx="362.3" cy="322.9" r="1.2"/><circle cx="363.8" cy="317" r="1.2"/><circle cx="365.4" cy="315.3" r="1.2"/><circle cx="366.9" cy="315.6" r="1.2"/><circle cx="368.4" cy="317" r="1.2"/><circle cx="370" cy="316.6" r="1.2"/><circle cx="371.5" cy="316.7" r="1.2"/><circle cx="373" cy="318.3" r="1.2"/><circle cx="374.5" cy="318.2" r="1.2"/><circle cx="376.1" cy="325.2" r="1.2"/><circle cx="377.6" cy="326.6" r="1.2"/><circle cx="379.1" cy="324.3" r="1.2"/><circle cx="380.7" cy="317.2" r="1.2"/><circle cx="382.2" cy="312.2" r="1.2"/><circle cx="383.7" cy="310.7" r="1.2"/><circle cx="385.3" cy="312.5" r="1.2"/><circle cx="386.8" cy="312.3" r="1.2"/><circle cx="388.3" cy="312.1" r="1.2"/><circle cx="389.9" cy="312.4" r="1.2"/><circle cx="391.4" cy="316.1" r="1.2"/><circle cx="392.9" cy="316.1" r="1.2"/><circle cx="394.4" cy="321.6" r="1.2"/><circle cx="396" cy="326.8" r="1.2"/><circle cx="397.5" cy="322.6" r="1.2"/><circle cx="399" cy="315.2" r="1.2"/><circle cx="400.6" cy="309.7" r="1.2"/><circle cx="402.1" cy="308.4" r="1.2"/><circle cx="403.6" cy="308" r="1.2"/><circle cx="405.2" cy="310.3" r="1.2"/><circle cx="406.7" cy="310.6" r="1.2"/><circle cx="408.2" cy="310.6" r="1.2"/><circle cx="409.7" cy="312.6" r="1.2"/><circle cx="411.3" cy="313" r="1.2"/><circle cx="412.8" cy="318.6" r="1.2"/><circle cx="414.3" cy="322.6" r="1.2"/><circle cx="415.9" cy="319.7" r="1.2"/><circle cx="417.4" cy="309.7" r="1.2"/><circle cx="418.9" cy="303.8" r="1.2"/><circle cx="420.5" cy="302.7" r="1.2"/><circle cx="422" cy="300.6" r="1.2"/><circle cx="423.5" cy="302.4" r="1.2"/><circle cx="425.1" cy="300.6" r="1.2"/><circle cx="426.6" cy="301.4" r="1.2"/><circle cx="428.1" cy="300.5" r="1.2"/><circle cx="429.6" cy="301.2" r="1.2"/><circle cx="431.2" cy="306.4" r="1.2"/><circle cx="432.7" cy="307.7" r="1.2"/><circle cx="434.2" cy="304.8" r="1.2"/><circle cx="435.8" cy="296.8" r="1.2"/><circle cx="437.3" cy="288.1" r="1.2"/><circle cx="438.8" cy="289" r="1.2"/><circle cx="440.4" cy="287" r="1.2"/><circle cx="441.9" cy="288.2" r="1.2"/><circle cx="443.4" cy="287.6" r="1.2"/><circle cx="445" cy="289.3" r="1.2"/><circle cx="446.5" cy="289.7" r="1.2"/><circle cx="448" cy="291.8" r="1.2"/><circle cx="449.5" cy="295" r="1.2"/><circle cx="451.1" cy="298.5" r="1.2"/><circle cx="452.6" cy="296.7" r="1.2"/><circle cx="454.1" cy="289.3" r="1.2"/><circle cx="455.7" cy="285.8" r="1.2"/><circle cx="457.2" cy="285.7" r="1.2"/><circle cx="458.7" cy="284.5" r="1.2"/><circle cx="460.3" cy="287" r="1.2"/><circle cx="461.8" cy="287.4" r="1.2"/><circle cx="463.3" cy="288.1" r="1.2"/><circle cx="464.9" cy="290.2" r="1.2"/><circle cx="466.4" cy="291.1" r="1.2"/><circle cx="467.9" cy="297.1" r="1.2"/><circle cx="469.4" cy="300.7" r="1.2"/><circle cx="471" cy="298" r="1.2"/><circle cx="472.5" cy="291.7" r="1.2"/><circle cx="474" cy="287.1" r="1.2"/><circle cx="475.6" cy="286.8" r="1.2"/><circle cx="477.1" cy="286.4" r="1.2"/><circle cx="478.6" cy="288.6" r="1.2"/><circle cx="480.2" cy="290.2" r="1.2"/><circle cx="481.7" cy="291.2" r="1.2"/><circle cx="483.2" cy="292.7" r="1.2"/><circle cx="484.7" cy="294" r="1.2"/><circle cx="486.3" cy="299" r="1.2"/><circle cx="487.8" cy="301.9" r="1.2"/><circle cx="489.3" cy="301.5" r="1.2"/><circle cx="490.9" cy="294.1" r="1.2"/><circle cx="492.4" cy="287.6" r="1.2"/><circle cx="493.9" cy="287.8" r="1.2"/><circle cx="495.5" cy="288.1" r="1.2"/><circle cx="497" cy="288.1" r="1.2"/><circle cx="498.5" cy="288.4" r="1.2"/><circle cx="500.1" cy="290.1" r="1.2"/><circle cx="501.6" cy="292.7" r="1.2"/><circle cx="503.1" cy="291.8" r="1.2"/><circle cx="504.6" cy="298.8" r="1.2"/><circle cx="506.2" cy="302.3" r="1.2"/><circle cx="507.7" cy="299.9" r="1.2"/><circle cx="509.2" cy="289.1" r="1.2"/><circle cx="510.8" cy="284.5" r="1.2"/><circle cx="512.3" cy="282.6" r="1.2"/><circle cx="513.8" cy="283.5" r="1.2"/><circle cx="515.4" cy="283.6" r="1.2"/><circle cx="516.9" cy="284.6" r="1.2"/><circle cx="518.4" cy="285.4" r="1.2"/><circle cx="520" cy="285.7" r="1.2"/><circle cx="521.5" cy="287.2" r="1.2"/><circle cx="523" cy="290.8" r="1.2"/><circle cx="524.5" cy="293.8" r="1.2"/><circle cx="526.1" cy="291.3" r="1.2"/><circle cx="527.6" cy="282.6" r="1.2"/><circle cx="529.1" cy="279.7" r="1.2"/><circle cx="530.7" cy="279" r="1.2"/><circle cx="532.2" cy="278.9" r="1.2"/><circle cx="533.7" cy="280.4" r="1.2"/><circle cx="535.3" cy="280.2" r="1.2"/><circle cx="536.8" cy="281.4" r="1.2"/><circle cx="538.3" cy="284.4" r="1.2"/><circle cx="539.9" cy="286.9" r="1.2"/><circle cx="541.4" cy="293.3" r="1.2"/><circle cx="542.9" cy="298.6" r="1.2"/><circle cx="544.4" cy="295.1" r="1.2"/><circle cx="546" cy="287.4" r="1.2"/><circle cx="547.5" cy="281.5" r="1.2"/><circle cx="549" cy="281.4" r="1.2"/><circle cx="550.6" cy="283.1" r="1.2"/><circle cx="552.1" cy="284.5" r="1.2"/><circle cx="553.6" cy="285.7" r="1.2"/><circle cx="555.2" cy="286.8" r="1.2"/><circle cx="556.7" cy="289.4" r="1.2"/><circle cx="558.2" cy="291.4" r="1.2"/><circle cx="559.7" cy="297.5" r="1.2"/><circle cx="561.3" cy="302" r="1.2"/><circle cx="562.8" cy="297.8" r="1.2"/><circle cx="564.3" cy="288.9" r="1.2"/><circle cx="565.9" cy="283.6" r="1.2"/><circle cx="567.4" cy="282.5" r="1.2"/><circle cx="568.9" cy="283.9" r="1.2"/><circle cx="570.5" cy="283.2" r="1.2"/><circle cx="572" cy="285.5" r="1.2"/><circle cx="573.5" cy="287.5" r="1.2"/><circle cx="575.1" cy="287.9" r="1.2"/><circle cx="576.6" cy="289.9" r="1.2"/><circle cx="578.1" cy="296.9" r="1.2"/><circle cx="579.6" cy="300.2" r="1.2"/><circle cx="581.2" cy="298.1" r="1.2"/><circle cx="582.7" cy="288.5" r="1.2"/><circle cx="584.2" cy="281.5" r="1.2"/><circle cx="585.8" cy="279.2" r="1.2"/><circle cx="587.3" cy="280.3" r="1.2"/><circle cx="588.8" cy="282.1" r="1.2"/><circle cx="590.4" cy="280.9" r="1.2"/><circle cx="591.9" cy="282.2" r="1.2"/><circle cx="593.4" cy="282.5" r="1.2"/><circle cx="595" cy="284" r="1.2"/><circle cx="596.5" cy="289.8" r="1.2"/><circle cx="598" cy="293.3" r="1.2"/><circle cx="599.5" cy="288.4" r="1.2"/><circle cx="601.1" cy="279.9" r="1.2"/><circle cx="602.6" cy="274.6" r="1.2"/><circle cx="604.1" cy="273.2" r="1.2"/><circle cx="605.7" cy="272.4" r="1.2"/><circle cx="607.2" cy="272.2" r="1.2"/><circle cx="608.7" cy="273.2" r="1.2"/><circle cx="610.3" cy="274.7" r="1.2"/><circle cx="611.8" cy="275.3" r="1.2"/><circle cx="613.3" cy="273.6" r="1.2"/><circle cx="614.9" cy="281" r="1.2"/><circle cx="616.4" cy="284.2" r="1.2"/><circle cx="617.9" cy="280.1" r="1.2"/><circle cx="619.4" cy="271.9" r="1.2"/><circle cx="621" cy="267" r="1.2"/><circle cx="622.5" cy="266.3" r="1.2"/><circle cx="624" cy="266.4" r="1.2"/><circle cx="625.6" cy="265.7" r="1.2"/><circle cx="627.1" cy="265.8" r="1.2"/><circle cx="628.6" cy="268" r="1.2"/><circle cx="630.2" cy="269.1" r="1.2"/><circle cx="631.7" cy="269.2" r="1.2"/><circle cx="633.2" cy="274.6" r="1.2"/><circle cx="634.7" cy="278.4" r="1.2"/><circle cx="636.3" cy="274.5" r="1.2"/><circle cx="637.8" cy="267" r="1.2"/><circle cx="639.3" cy="260.5" r="1.2"/><circle cx="640.9" cy="258.8" r="1.2"/><circle cx="642.4" cy="259.2" r="1.2"/><circle cx="643.9" cy="259.3" r="1.2"/><circle cx="645.5" cy="260" r="1.2"/><circle cx="647" cy="259.8" r="1.2"/><circle cx="648.5" cy="262.9" r="1.2"/><circle cx="650.1" cy="264.3" r="1.2"/><circle cx="651.6" cy="269.8" r="1.2"/><circle cx="653.1" cy="274" r="1.2"/><circle cx="654.6" cy="269.9" r="1.2"/><circle cx="656.2" cy="260.2" r="1.2"/><circle cx="657.7" cy="254.1" r="1.2"/><circle cx="659.2" cy="252" r="1.2"/><circle cx="660.8" cy="253.7" r="1.2"/><circle cx="662.3" cy="255.9" r="1.2"/><circle cx="663.8" cy="254.5" r="1.2"/><circle cx="665.4" cy="255.6" r="1.2"/><circle cx="666.9" cy="256.9" r="1.2"/><circle cx="668.4" cy="257.5" r="1.2"/><circle cx="670" cy="262.9" r="1.2"/><circle cx="671.5" cy="266.7" r="1.2"/><circle cx="673" cy="264.1" r="1.2"/><circle cx="674.5" cy="255.6" r="1.2"/><circle cx="676.1" cy="249.9" r="1.2"/><circle cx="677.6" cy="248.8" r="1.2"/><circle cx="679.1" cy="248.4" r="1.2"/><circle cx="680.7" cy="248.7" r="1.2"/><circle cx="682.2" cy="248.9" r="1.2"/><circle cx="683.7" cy="250.8" r="1.2"/><circle cx="685.3" cy="251.1" r="1.2"/><circle cx="686.8" cy="252.6" r="1.2"/><circle cx="688.3" cy="257.5" r="1.2"/><circle cx="689.8" cy="260" r="1.2"/><circle cx="691.4" cy="256.5" r="1.2"/><circle cx="692.9" cy="249.6" r="1.2"/><circle cx="694.4" cy="245.8" r="1.2"/><circle cx="696" cy="242.5" r="1.2"/><circle cx="697.5" cy="244" r="1.2"/><circle cx="699" cy="241.6" r="1.2"/><circle cx="700.6" cy="243.1" r="1.2"/><circle cx="702.1" cy="244" r="1.2"/><circle cx="703.6" cy="245.8" r="1.2"/><circle cx="705.2" cy="244.6" r="1.2"/><circle cx="706.7" cy="252.1" r="1.2"/><circle cx="708.2" cy="255.5" r="1.2"/><circle cx="709.7" cy="252" r="1.2"/><circle cx="711.3" cy="245.1" r="1.2"/><circle cx="712.8" cy="238.7" r="1.2"/><circle cx="714.3" cy="235.7" r="1.2"/><circle cx="715.9" cy="237" r="1.2"/><circle cx="717.4" cy="235.9" r="1.2"/><circle cx="718.9" cy="236" r="1.2"/><circle cx="720.5" cy="236" r="1.2"/><circle cx="722" cy="236.7" r="1.2"/><circle cx="723.5" cy="236.6" r="1.2"/><circle cx="725.1" cy="240.7" r="1.2"/><circle cx="726.6" cy="244.3" r="1.2"/><circle cx="728.1" cy="239.6" r="1.2"/><circle cx="729.6" cy="231.5" r="1.2"/><circle cx="731.2" cy="223.5" r="1.2"/><circle cx="732.7" cy="221.8" r="1.2"/><circle cx="734.2" cy="220.7" r="1.2"/><circle cx="735.8" cy="220.3" r="1.2"/><circle cx="737.3" cy="220.4" r="1.2"/><circle cx="738.8" cy="219.3" r="1.2"/><circle cx="740.4" cy="222.3" r="1.2"/><circle cx="741.9" cy="222.7" r="1.2"/><circle cx="743.4" cy="227.9" r="1.2"/><circle cx="745" cy="231.6" r="1.2"/><circle cx="746.5" cy="226.6" r="1.2"/><circle cx="748" cy="217.9" r="1.2"/><circle cx="749.5" cy="212.1" r="1.2"/><circle cx="751.1" cy="210.6" r="1.2"/><circle cx="752.6" cy="209" r="1.2"/><circle cx="754.1" cy="208.8" r="1.2"/><circle cx="755.7" cy="208.8" r="1.2"/><circle cx="757.2" cy="211.1" r="1.2"/><circle cx="758.7" cy="212.5" r="1.2"/><circle cx="760.3" cy="212.4" r="1.2"/><circle cx="761.8" cy="217.6" r="1.2"/><circle cx="763.3" cy="222.1" r="1.2"/><circle cx="764.8" cy="218.5" r="1.2"/><circle cx="766.4" cy="208.6" r="1.2"/><circle cx="767.9" cy="205" r="1.2"/><circle cx="769.4" cy="202" r="1.2"/><circle cx="771" cy="202.5" r="1.2"/><circle cx="772.5" cy="204" r="1.2"/><circle cx="774" cy="202.4" r="1.2"/><circle cx="775.6" cy="204.3" r="1.2"/><circle cx="777.1" cy="205.9" r="1.2"/><circle cx="778.6" cy="206.2" r="1.2"/><circle cx="780.2" cy="210.9" r="1.2"/><circle cx="781.7" cy="212.8" r="1.2"/><circle cx="783.2" cy="210" r="1.2"/><circle cx="784.7" cy="203" r="1.2"/><circle cx="786.3" cy="197.4" r="1.2"/><circle cx="787.8" cy="194.8" r="1.2"/><circle cx="789.3" cy="194.5" r="1.2"/><circle cx="790.9" cy="193.9" r="1.2"/><circle cx="792.4" cy="194.6" r="1.2"/><circle cx="793.9" cy="195.5" r="1.2"/><circle cx="795.5" cy="195.4" r="1.2"/><circle cx="797" cy="195.3" r="1.2"/><circle cx="798.5" cy="203.1" r="1.2"/><circle cx="800.1" cy="205.7" r="1.2"/><circle cx="801.6" cy="202.3" r="1.2"/><circle cx="803.1" cy="192.1" r="1.2"/><circle cx="804.6" cy="186.1" r="1.2"/><circle cx="806.2" cy="183.8" r="1.2"/><circle cx="807.7" cy="186.3" r="1.2"/><circle cx="809.2" cy="184.8" r="1.2"/><circle cx="810.8" cy="186.4" r="1.2"/><circle cx="812.3" cy="185.3" r="1.2"/><circle cx="813.8" cy="187" r="1.2"/><circle cx="815.4" cy="187.3" r="1.2"/><circle cx="816.9" cy="192.8" r="1.2"/><circle cx="818.4" cy="193.4" r="1.2"/><circle cx="820" cy="190.7" r="1.2"/><circle cx="821.5" cy="184.4" r="1.2"/><circle cx="823" cy="177.4" r="1.2"/><circle cx="824.5" cy="174.8" r="1.2"/><circle cx="826.1" cy="175.4" r="1.2"/><circle cx="827.6" cy="173.9" r="1.2"/><circle cx="829.1" cy="174.3" r="1.2"/><circle cx="830.7" cy="173.9" r="1.2"/><circle cx="832.2" cy="174.4" r="1.2"/><circle cx="833.7" cy="173.9" r="1.2"/><circle cx="835.3" cy="178.9" r="1.2"/><circle cx="836.8" cy="182" r="1.2"/><circle cx="838.3" cy="176.8" r="1.2"/><circle cx="839.8" cy="167.9" r="1.2"/><circle cx="841.4" cy="159.8" r="1.2"/><circle cx="842.9" cy="156.8" r="1.2"/><circle cx="844.4" cy="157.2" r="1.2"/><circle cx="846" cy="155.5" r="1.2"/><circle cx="847.5" cy="154.8" r="1.2"/><circle cx="849" cy="154.7" r="1.2"/><circle cx="850.6" cy="154.4" r="1.2"/><circle cx="852.1" cy="154.9" r="1.2"/><circle cx="853.6" cy="157.8" r="1.2"/><circle cx="855.2" cy="159.8" r="1.2"/><circle cx="856.7" cy="156" r="1.2"/><circle cx="858.2" cy="146.3" r="1.2"/><circle cx="859.7" cy="140.5" r="1.2"/><circle cx="861.3" cy="138.4" r="1.2"/><circle cx="862.8" cy="137.5" r="1.2"/><circle cx="864.3" cy="136" r="1.2"/><circle cx="865.9" cy="134.1" r="1.2"/><circle cx="867.4" cy="133.9" r="1.2"/></g>
<g class="s"><text x="155.2" y="92.8" text-anchor="end">1950 ppb</text><text x="155.2" y="149" text-anchor="end">1900 ppb</text><text x="155.2" y="205.2" text-anchor="end">1850 ppb</text><text x="155.2" y="261.5" text-anchor="end">1800 ppb</text><text x="155.2" y="317.7" text-anchor="end">1750 ppb</text><text x="155.2" y="373.9" text-anchor="end">1700 ppb</text><text x="155.2" y="430.1" text-anchor="end">1650 ppb</text><text x="155.2" y="486.3" text-anchor="end">1600 ppb</text><text x="873.6" y="92.8">1950 ppb</text><text x="873.6" y="149">1900 ppb</text><text x="873.6" y="205.2">1850 ppb</text><text x="873.6" y="261.5">1800 ppb</text><text x="873.6" y="317.7">1750 ppb</text><text x="873.6" y="373.9">1700 ppb</text><text x="873.6" y="430.1">1650 ppb</text><text x="873.6" y="486.3">1600 ppb</text><text x="181.2" y="501" text-anchor="middle">1985</text><text x="275.8" y="501" text-anchor="middle">1990</text><text x="370.2" y="501" text-anchor="middle">1995</text><text x="464.8" y="501" text-anchor="middle">2000</text><text x="559.2" y="501" text-anchor="middle">2005</text><text x="653.8" y="501" text-anchor="middle">2010</text><text x="748.2" y="501" text-anchor="middle">2015</text><text x="842.8" y="501" text-anchor="middle">2020</text></g>
<text class="d" x="841.4" y="516" xml:space="preserve">Mar  2022</text>
</svg>
</body></html>
